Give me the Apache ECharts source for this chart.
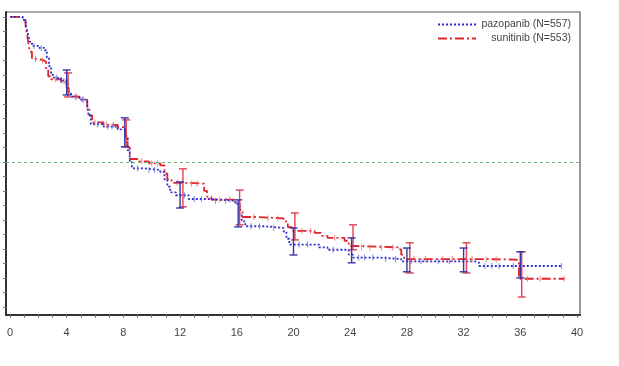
<!DOCTYPE html>
<html><head><meta charset="utf-8">
<script src="https://cdn.jsdelivr.net/npm/echarts@6/dist/echarts.min.js"></script>
<style>html,body{margin:0;padding:0;background:#fff}#c{width:619px;height:366px}</style>
</head><body><div id="c"></div>
<script>
// ---- data ----
const seriesNames = ['pazopanib (N=557)', 'sunitinib (N=553)'];
const xTickLabels = [0, 4, 8, 12, 16, 20, 24, 28, 32, 36, 40];
const xMinorTicks = [0,1,2,3,4,5,6,7,8,9,10,11,12,13,14,15,16,17,18,19,20,21,22,23,24,25,26,27,28,29,30,31,32,33,34,35,36,37,38,39,40];
const yTicks = [0,0.05,0.1,0.15,0.2,0.25,0.3,0.35,0.4,0.45,0.5,0.55,0.6,0.65,0.7,0.75,0.8,0.85,0.9,0.95,1.0];
const medianLevel = 0.5;

const pazopanibKM = [[0,1.0],[0.9,0.99],[1.1,0.975],[1.2,0.955],[1.3,0.935],[1.4,0.915],[1.55,0.9],[2.0,0.893],[2.45,0.885],[2.6,0.86],[2.75,0.83],[2.9,0.80],[3.1,0.79],[3.6,0.78],[4.05,0.76],[4.15,0.74],[4.3,0.725],[4.9,0.715],[5.45,0.69],[5.55,0.66],[5.7,0.63],[6.6,0.622],[7.6,0.612],[8.15,0.585],[8.3,0.54],[8.45,0.50],[8.6,0.478],[9.4,0.472],[10.6,0.465],[10.9,0.44],[11.1,0.415],[11.3,0.395],[11.7,0.385],[12.6,0.372],[14.0,0.366],[15.9,0.355],[16.2,0.32],[16.35,0.295],[16.6,0.278],[18.0,0.272],[19.3,0.26],[19.5,0.235],[19.7,0.215],[21.8,0.205],[22.4,0.197],[23.9,0.18],[24.2,0.17],[26.0,0.165],[27.6,0.157],[32.8,0.152],[33.1,0.141],[38.9,0.141]];
const sunitinibKM = [[0,1.0],[0.9,0.99],[1.1,0.97],[1.2,0.94],[1.3,0.91],[1.4,0.88],[1.55,0.855],[2.0,0.85],[2.4,0.845],[2.55,0.82],[2.7,0.795],[2.9,0.785],[3.6,0.775],[4.0,0.755],[4.15,0.735],[4.3,0.725],[4.9,0.715],[5.45,0.69],[5.6,0.66],[5.8,0.636],[6.6,0.628],[7.6,0.62],[8.15,0.59],[8.3,0.55],[8.45,0.51],[9.0,0.502],[9.8,0.495],[10.6,0.488],[10.9,0.46],[11.1,0.44],[11.4,0.428],[12.5,0.425],[13.7,0.40],[13.9,0.38],[14.2,0.37],[15.9,0.36],[16.2,0.335],[16.4,0.31],[17.5,0.305],[19.3,0.295],[19.6,0.275],[19.9,0.262],[21.5,0.255],[22.0,0.245],[22.4,0.238],[23.6,0.228],[23.9,0.21],[24.5,0.205],[27.4,0.198],[27.6,0.18],[27.8,0.165],[30.0,0.165],[33.0,0.163],[35.7,0.158],[35.9,0.097],[39.1,0.097]];

const errTimeBlue = [4.0, 8.1, 12.0, 16.1, 20.0, 24.1, 28.0, 32.0, 36.0];
const errLowBlue  = [0.731, 0.552, 0.341, 0.276, 0.179, 0.152, 0.121, 0.121, 0.10];
const errHighBlue = [0.817, 0.652, 0.431, 0.369, 0.272, 0.238, 0.203, 0.203, 0.19];
const errTimeRed  = [4.1, 8.2, 12.2, 16.2, 20.1, 24.2, 28.2, 32.2, 36.1];
const errLowRed   = [0.724, 0.552, 0.345, 0.283, 0.231, 0.197, 0.117, 0.117, 0.034];
const errHighRed  = [0.807, 0.645, 0.476, 0.403, 0.324, 0.283, 0.221, 0.221, 0.19];

const censorBlue = [1.7, 2.2, 3.3, 3.8, 4.6, 5.1, 6.2, 6.9, 7.2, 9.0, 9.8, 10.2, 12.3, 13.0, 13.5, 14.5, 15.2, 17.0, 17.6, 18.6, 20.4, 21.0, 22.8, 24.6, 25.0, 25.6, 26.5, 27.2, 28.3, 29.0, 30.2, 31.0, 33.5, 34.0, 34.5, 35.5, 38.9];
const censorRed  = [1.8, 2.3, 3.2, 3.9, 4.7, 5.2, 6.0, 6.8, 7.3, 9.3, 10.0, 10.4, 11.8, 12.8, 13.2, 14.8, 15.5, 17.2, 18.2, 18.9, 20.6, 21.2, 22.9, 24.8, 25.4, 26.2, 27.0, 28.5, 29.3, 30.5, 31.2, 32.6, 33.6, 34.3, 36.5, 37.4, 39.1];

// ---- helpers ----
function stepValue(km, t) { let v = km[0][1]; for (const p of km) { if (p[0] <= t) v = p[1]; else break; } return v; }
function zip3(a, b, c) { return a.map((v, i) => [v, b[i], c[i]]); }

const BLUE = '#2f2fc8', BLUE_BAR = '#3535a8', RED = '#e3232b', RED_BAR = '#e04050';
const FONT = 'Liberation Sans, Arial, sans-serif';

function errRender(color) {
  return function (params, api) {
    const x = api.value(0);
    const lo = api.coord([x, api.value(1)]);
    const hi = api.coord([x, api.value(2)]);
    const cw = 4;
    const style = { stroke: color, lineWidth: 1.4 };
    return { type: 'group', children: [
      { type: 'line', shape: { x1: lo[0], y1: lo[1], x2: hi[0], y2: hi[1] }, style },
      { type: 'line', shape: { x1: lo[0] - cw, y1: lo[1], x2: lo[0] + cw, y2: lo[1] }, style },
      { type: 'line', shape: { x1: hi[0] - cw, y1: hi[1], x2: hi[0] + cw, y2: hi[1] }, style }
    ]};
  };
}

const chart = echarts.init(document.getElementById('c'), null, { renderer: 'canvas' });
chart.setOption({
  animation: false,
  backgroundColor: '#fff',
  grid: { left: 6, right: 39, top: 12, bottom: 51, show: true, borderColor: '#555', borderWidth: 1.2, backgroundColor: 'transparent' },
  legend: {
    right: 43, top: 14, orient: 'vertical', itemWidth: 38, itemHeight: 10, itemGap: 3,
    data: seriesNames,
    itemStyle: { opacity: 0 },
    formatter: n => '{a|' + n + '}',
    textStyle: { fontFamily: FONT, fontSize: 10.5, color: '#444', rich: { a: { width: 90, align: 'right', fontFamily: FONT, fontSize: 10.5, color: '#444' } } }
  },
  xAxis: {
    type: 'value', min: -0.28, max: 40.21,
    axisLine: { show: true, onZero: false, lineStyle: { color: '#333', width: 2 } },
    axisTick: { show: true, length: 3, customValues: xMinorTicks, lineStyle: { color: '#777' } },
    axisLabel: { customValues: xTickLabels, fontFamily: FONT, fontSize: 11, color: '#444', margin: 12 },
    splitLine: { show: false }
  },
  yAxis: {
    type: 'value', min: -0.028, max: 1.017,
    axisLine: { show: true, onZero: false, lineStyle: { color: '#333', width: 2 } },
    axisTick: { show: true, length: 3, customValues: yTicks, lineStyle: { color: '#777' } },
    axisLabel: { show: false },
    splitLine: { show: false }
  },
  series: [
    { name: seriesNames[0], type: 'line', step: 'end', data: pazopanibKM, symbol: 'none',
      lineStyle: { color: BLUE, width: 1.8, type: [2, 2] }, itemStyle: { color: BLUE }, z: 3,
      markLine: { silent: true, symbol: 'none', label: { show: false },
        lineStyle: { color: '#6fae78', type: [3, 3], width: 1 }, data: [{ yAxis: medianLevel }] } },
    { name: seriesNames[1], type: 'line', step: 'end', data: sunitinibKM, symbol: 'none',
      lineStyle: { color: RED, width: 1.8, type: [9, 3, 2, 3] }, itemStyle: { color: RED }, z: 2 },
    { type: 'scatter', data: censorBlue.map(t => [t, stepValue(pazopanibKM, t)]), symbol: 'rect', symbolSize: [1, 6],
      itemStyle: { color: '#6a6ad8' }, z: 4, silent: true },
    { type: 'scatter', data: censorRed.map(t => [t, stepValue(sunitinibKM, t)]), symbol: 'rect', symbolSize: [1, 6],
      itemStyle: { color: '#ee6a6a' }, z: 4, silent: true },
    { type: 'custom', renderItem: errRender(RED_BAR), data: zip3(errTimeRed, errLowRed, errHighRed), encode: { x: 0, y: [1, 2] }, z: 5, silent: true },
    { type: 'custom', renderItem: errRender(BLUE_BAR), data: zip3(errTimeBlue, errLowBlue, errHighBlue), encode: { x: 0, y: [1, 2] }, z: 6, silent: true }
  ]
});
</script></body></html>
